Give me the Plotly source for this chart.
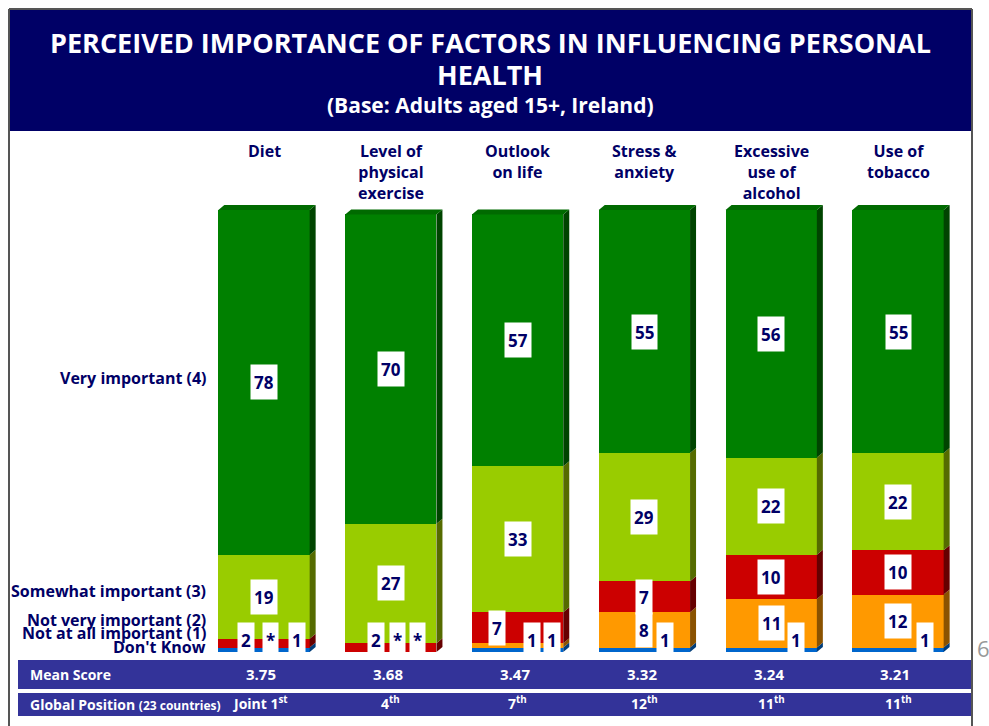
import plotly.graph_objects as go

# chart data (percent), * shown where value rounds to 0
factors = ['Diet', 'Level of<br>physical<br>exercise', 'Outlook<br>on life', 'Stress &<br>anxiety',
           'Excessive<br>use of<br>alcohol', 'Use of<br>tobacco']
dont_know = [1, 0, 1, 1, 1, 1]
not_at_all = [0, 0, 1, 8, 11, 12]
not_very = [2, 2, 7, 7, 10, 10]
somewhat = [19, 27, 33, 29, 22, 22]
very = [78, 70, 57, 55, 56, 55]
mean_score = ['3.75', '3.68', '3.47', '3.32', '3.24', '3.21']
global_pos = ['Joint 1<sup>st</sup>', '4<sup>th</sup>', '7<sup>th</sup>', '12<sup>th</sup>',
              '11<sup>th</sup>', '11<sup>th</sup>']
row_names = ['Very important (4)', 'Somewhat important (3)', 'Not very important (2)',
             'Not at all important (1)', "Don't Know"]

W, H = 989, 726
NAVY = '#000066'
BAND = '#333399'
FONT = 'Open Sans'

# segments bottom -> top: (values, front colour, side colour, label x-offsets in px)
segments = [
    (dont_know, '#0066CC', '#003d7a', [33, 27, 34, 21, 25, 27]),
    (not_at_all, '#FF9900', '#8a5200', [6, 7, 14, 0, 0, 0]),
    (not_very, '#CC0000', '#660000', [-18, -15, -21, 0, 0, 0]),
    (somewhat, '#99CC00', '#556b00', [0, 0, 0, 0, 0, 0]),
    (very, '#008000', '#004400', [0, 0, 0, 0, 0, 0]),
]

# pixel geometry of the plot
cx0, step = 264, 126.8          # first bar centre, spacing
y0px, ppu = 652, 4.42           # pixel of y=0, pixels per percent
bar_w = 0.72
depth_x = 6 / step
depth_y = 5 / ppu


def px(x):
    return x / W


def py(y):
    return 1 - y / H


xs = list(range(len(factors)))
fig = go.Figure()
shapes = []
annotations = []

bottoms = [0] * len(factors)
for vals, col, side, offs in segments:
    fig.add_trace(go.Bar(x=xs, y=vals, base=bottoms, width=bar_w, marker=dict(color=col, line=dict(width=0)),
                         hoverinfo='skip', showlegend=False))
    for i, v in enumerate(vals):
        b = bottoms[i]
        xr = i + bar_w / 2
        if v > 0:
            shapes.append(dict(type='path', xref='x', yref='y', fillcolor=side, line=dict(width=0),
                               path=f'M {xr},{b} L {xr + depth_x},{b + depth_y} L {xr + depth_x},{b + v + depth_y} '
                                    f'L {xr},{b + v} Z'))
        # label
        mid = max(b + v / 2, 2.8)
        txt = str(v) if v > 0 else '*'
        annotations.append(dict(x=i + offs[i] / step, y=mid, xref='x', yref='y', text=f'<b>{txt}</b>',
                                xanchor='center', yanchor='middle',
                                showarrow=False, bgcolor='white', borderpad=3, height=28,
                                font=dict(family=FONT, size=17, color=NAVY)))
    bottoms = [b + v for b, v in zip(bottoms, vals)]

# top faces of the bars
for i, t in enumerate(bottoms):
    xl, xr = i - bar_w / 2, i + bar_w / 2
    shapes.append(dict(type='path', xref='x', yref='y', fillcolor='#006a00', line=dict(width=0),
                       path=f'M {xl},{t} L {xl + depth_x},{t + depth_y} L {xr + depth_x},{t + depth_y} L {xr},{t} Z'))

# frame and title box
shapes += [
    dict(type='rect', xref='paper', yref='paper', x0=px(10), x1=px(971), y0=py(131), y1=py(10),
         fillcolor=NAVY, line=dict(width=0), layer='below'),
    dict(type='line', xref='paper', yref='paper', x0=px(9), x1=px(972), y0=py(9), y1=py(9),
         line=dict(color='#555555', width=2)),
    dict(type='line', xref='paper', yref='paper', x0=px(9), x1=px(9), y0=py(9), y1=0,
         line=dict(color='#555555', width=2)),
    dict(type='line', xref='paper', yref='paper', x0=px(972), x1=px(972), y0=py(9), y1=0,
         line=dict(color='#555555', width=2)),
    dict(type='rect', xref='paper', yref='paper', x0=px(18), x1=px(971), y0=py(689), y1=py(660),
         fillcolor=BAND, line=dict(width=0), layer='below'),
    dict(type='rect', xref='paper', yref='paper', x0=px(18), x1=px(971), y0=py(716), y1=py(693),
         fillcolor=BAND, line=dict(width=0), layer='below'),
]


def note(x, y, text, size, color, xanchor='center', xref='paper'):
    return dict(x=x, y=y, xref=xref, yref='paper', xanchor=xanchor, yanchor='middle', showarrow=False,
                text=text, font=dict(family=FONT, size=size, color=color))


annotations += [
    note(px(490), py(42), '<b>PERCEIVED IMPORTANCE OF FACTORS IN INFLUENCING PERSONAL</b>', 27, 'white'),
    note(px(490), py(74), '<b>HEALTH</b>', 27, 'white'),
    note(px(490), py(105), '<b>(Base: Adults aged 15+, Ireland)</b>', 21, 'white'),
    note(px(975), py(648), '6', 22, '#999999', 'left'),
    note(px(28), py(674), '<b>Mean Score</b>', 14, 'white', 'left'),
    note(px(28), py(704), '<b>Global Position</b> <span style="font-size:12px"><b>(23 countries)</b></span>',
         14, 'white', 'left'),
]

# factor headers and table values
for i, name in enumerate(factors):
    annotations.append(dict(x=i, y=py(138), xref='x', yref='paper', xanchor='center', yanchor='top',
                            showarrow=False, text=f'<b>{name}</b>', font=dict(family=FONT, size=16, color=NAVY)))
    annotations.append(note(i - 0.02, py(674), f'<b>{mean_score[i]}</b>', 15, 'white', xref='x'))
    annotations.append(note(i - (0.03 if i == 0 else 0), py(703), f'<b>{global_pos[i]}</b>', 14, 'white',
                            xref='x'))

# row labels on the left
for name, ypix in zip(row_names, [378, 591, 620, 633, 647]):
    annotations.append(note(px(208), py(ypix), f'<b>{name}</b>', 16, NAVY, 'right'))

fig.update_layout(
    width=W, height=H, margin=dict(l=0, r=0, t=0, b=0),
    paper_bgcolor='white', plot_bgcolor='rgba(0,0,0,0)',
    barmode='overlay', bargap=0,
    xaxis=dict(range=[-cx0 / step, (W - cx0) / step], visible=False, fixedrange=True),
    yaxis=dict(range=[-(H - y0px) / ppu, y0px / ppu], visible=False, fixedrange=True),
    shapes=shapes, annotations=annotations,
)

# drop the browser's default body margin so the figure fills the window
fig.write_html('out.html', config={'displayModeBar': False},
               post_script="document.body.style.margin='0';document.body.style.overflow='hidden';")
